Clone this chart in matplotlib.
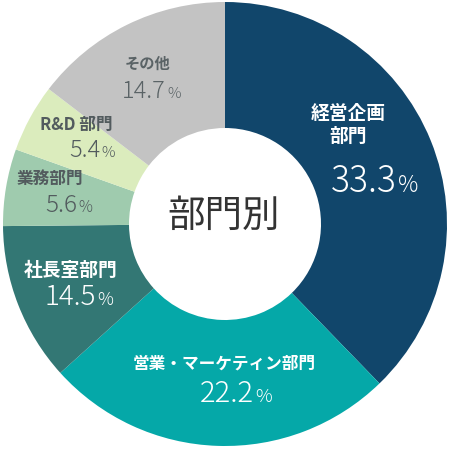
import matplotlib
matplotlib.use("Agg")
import matplotlib.pyplot as plt

plt.rcParams['font.family'] = ['Noto Sans CJK JP', 'DejaVu Sans']

# slices as drawn in the picture (share of the circle), clockwise from 12 o'clock
names = ["経営企画\n部門", "営業・マーケティン部門", "社長室部門", "業務部門", "R&D 部門", "その他"]
slice_sizes = [37.75, 25.55, 11.55, 5.6, 4.95, 14.6]
pct_labels = ["33.3", "22.2", "14.5", "5.6", "5.4", "14.7"]
colors = ['#11466b', '#05a8a8', '#337774', '#9fcbae', '#dbecbd', '#c3c3c3']
text_colors = ['white', 'white', 'white', '#525b5e', '#525b5e', '#5a6366']

# label placement in image pixels: name centre, number/% split x, number baseline y
name_pos = [(348, 125), (224, 364), (71, 270), (50, 179), (76, 125), (148, 64)]
name_size = [13.5, 12, 13.5, 12, 12, 11]
pct_pos = [(397, 192), (254, 402), (96, 305), (77, 212), (100, 157), (166, 98)]
pct_size = [25.5, 21, 20, 17.5, 17, 17]

fig = plt.figure(figsize=(4.5, 4.5), dpi=100)
ax = fig.add_axes([0, 0, 1, 1])

cx, cy, r = 225, 450 - 224, 222
ax.pie(slice_sizes, colors=colors, startangle=90, counterclock=False,
       center=(cx, cy), radius=r, wedgeprops=dict(width=r - 96, linewidth=0))
ax.set_xlim(0, 450)
ax.set_ylim(0, 450)
ax.set_aspect('equal')
ax.axis('off')

for i in range(len(names)):
    nx, ny = name_pos[i]
    ax.text(nx, 450 - ny, names[i], ha='center', va='center', color=text_colors[i],
            fontsize=name_size[i], fontweight='bold', linespacing=1.25)
    px, py = pct_pos[i]
    ax.text(px, 450 - py, pct_labels[i], ha='right', va='baseline', color=text_colors[i],
            fontsize=pct_size[i], fontweight='light')
    ax.text(px + 1, 450 - py, "%", ha='left', va='baseline', color=text_colors[i],
            fontsize=pct_size[i] * 0.64, fontweight='light')

ax.text(224, 450 - 216, "部門別", ha='center', va='center', color='#333333', fontsize=27)

fig.savefig("out.png", dpi=100)
